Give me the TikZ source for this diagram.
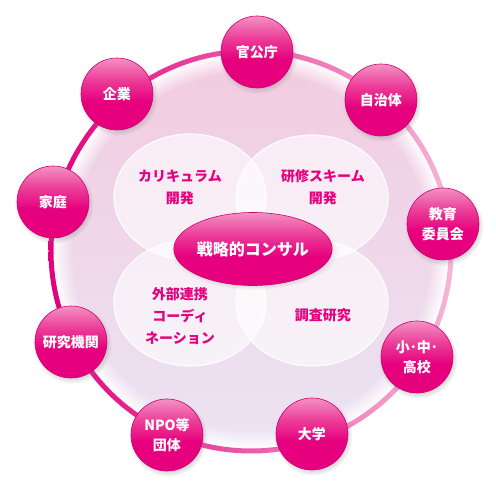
\documentclass[tikz,border=0pt]{standalone}
\usepackage{fontspec}
\setmainfont{Noto Sans CJK JP}
\usepackage{tikz}
\usetikzlibrary{shapes.geometric, shadows, fadings}

\definecolor{mag}{HTML}{E6007E}
\definecolor{magdark}{HTML}{CF0070}
\definecolor{magmid}{HTML}{EC3F99}
\definecolor{pinktop}{HTML}{F391C3}
\definecolor{textmag}{HTML}{E4007F}
\definecolor{ringdk}{HTML}{E2007D}
\definecolor{ringlt}{HTML}{F6B6D6}
\definecolor{bgtop}{HTML}{F2CBE0}
\definecolor{bgbot}{HTML}{EBE4F3}

\pgfdeclareverticalshading{gloss}{100bp}{color(0bp)=(mag); color(25bp)=(mag);
  color(45bp)=(mag); color(60bp)=(magmid); color(75bp)=(pinktop); color(100bp)=(pinktop)}

\tikzset{
  orgnode/.style={circle, minimum size=72pt, inner sep=0pt, shade, shading=gloss,
    draw=magdark, line width=.6pt, text=white, align=center,
    font=\fontsize{14}{20}\selectfont\bfseries,
    circular drop shadow={shadow xshift=1pt, shadow yshift=-2pt, shadow scale=1.1, opacity=.3}},
  hubnode/.style={ellipse, minimum width=158pt, minimum height=73pt, inner sep=0pt,
    shade, shading=gloss, draw=magdark, line width=.6pt, text=white,
    font=\fontsize{16}{20}\selectfont\bfseries,
    circular drop shadow={shadow xshift=1pt, shadow yshift=-2pt, shadow scale=1.06, opacity=.3}},
  venn/.style={fill=white, fill opacity=.6, draw=white, draw opacity=.9, line width=1.2pt},
  venntext/.style={text=textmag, align=center, font=\fontsize{14}{22}\selectfont\bfseries}
}

\begin{document}
\begin{tikzpicture}[x=1pt, y=1pt]
  \useasboundingbox (-251,-236) rectangle (245,251);

  % background disc and ring
  \shade[top color=bgtop, bottom color=bgbot, path fading=circle with fuzzy edge 10 percent]
    (0,0) circle (198);
  \shade[left color=ringdk, right color=ringlt, even odd rule]
    (0,0) circle (202.5) (0,0) circle (197.5);

  % four fields
  \draw[venn] (-61,54) ellipse [x radius=76, y radius=63];
  \draw[venn] (61,53) ellipse [x radius=76, y radius=63];
  \draw[venn] (-61,-52) ellipse [x radius=76, y radius=63];
  \draw[venn] (61,-52) ellipse [x radius=76, y radius=63];

  \node[venntext] (curr) at (-71,64) {カリキュラム\\開発};
  \node[venntext] (scheme) at (72,64) {研修スキーム\\開発};
  \node[venntext] (liaison) at (-71,-65) {外部連携\\コーディ\\ネーション};
  \node[venntext] (survey) at (72,-64) {調査研究};

  \node[hubnode] (hub) at (2,2) {戦略的コンサル};

  % partners round the ring
  \foreach \x/\y/\lab [count=\i] in {6/199/官公庁, 130/151/自治体, 192/27/{教育\\委員会},
      166/-106/{小･中･\\高校}, 61/-183/大学, -84/-184/{NPO等\\団体},
      -180/-91/研究機関, -198/49/家庭, -134/157/企業}
    \node[orgnode] (org\i) at (\x,\y) {\lab};
\end{tikzpicture}
\end{document}
